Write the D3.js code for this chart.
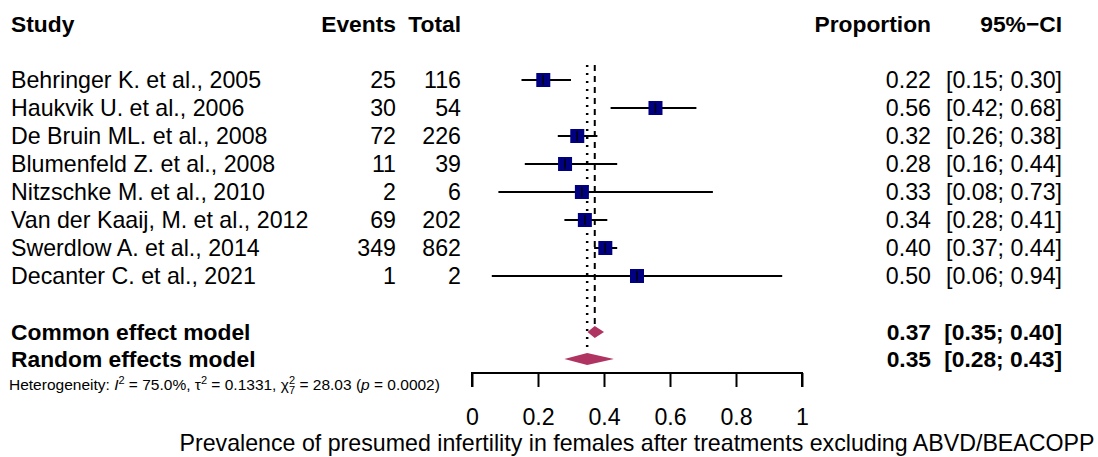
<!DOCTYPE html>
<html>
<head>
<meta charset="utf-8">
<script src="https://cdn.jsdelivr.net/npm/d3@7"></script>
<style>
  html, body { margin: 0; padding: 0; background: #fff; }
  svg { display: block; font-family: "Liberation Sans", Arial, Helvetica, sans-serif; }
</style>
</head>
<body>
<svg id="chart" width="1098" height="457"></svg>
<script>
// ---------- data ----------
const studies = [
  "Behringer K. et al., 2005",
  "Haukvik U. et al., 2006",
  "De Bruin ML. et al., 2008",
  "Blumenfeld Z. et al., 2008",
  "Nitzschke M. et al., 2010",
  "Van der Kaaij, M. et al., 2012",
  "Swerdlow A. et al., 2014",
  "Decanter C. et al., 2021"
];
const events = [25, 30, 72, 11, 2, 69, 349, 1];
const totals = [116, 54, 226, 39, 6, 202, 862, 2];
const proportions = [0.216, 0.556, 0.319, 0.282, 0.333, 0.342, 0.404, 0.500];
const lowerCI = [0.15, 0.42, 0.26, 0.16, 0.08, 0.28, 0.37, 0.06];
const upperCI = [0.30, 0.68, 0.38, 0.44, 0.73, 0.41, 0.44, 0.94];

const modelNames = ["Common effect model", "Random effects model"];
const modelEst = [0.372, 0.349];
const modelLower = [0.35, 0.28];
const modelUpper = [0.40, 0.43];

const axisTicks = [0, 0.2, 0.4, 0.6, 0.8, 1];
const xLabel = "Prevalence of presumed infertility in females after treatments excluding ABVD/BEACOPP";

// ---------- layout ----------
const svg = d3.select("#chart");
const x = d3.scaleLinear().domain([0, 1]).range([472, 802]);
const rowY = d3.scalePoint().domain(d3.range(studies.length)).range([80, 276]);
const modelY = d3.scalePoint().domain([0, 1]).range([332, 359]);
const fmt = d3.format(".2f");
const FS = 23.2;
const FSB = 22.8;
const navy = "#000080";
const diamondCol = "#b03462";

const colStudy = 11, colEvents = 396, colTotal = 461, colProp = 931, colCI = 1062;

// headers
const hdr = svg.append("g").attr("font-size", FSB).attr("font-weight", "bold");
hdr.append("text").attr("x", colStudy).attr("y", 32).text("Study");
hdr.append("text").attr("x", colEvents).attr("y", 32).attr("text-anchor", "end").text("Events");
hdr.append("text").attr("x", colTotal).attr("y", 32).attr("text-anchor", "end").text("Total");
hdr.append("text").attr("x", colProp).attr("y", 32).attr("text-anchor", "end").text("Proportion");
hdr.append("text").attr("x", colCI).attr("y", 32).attr("text-anchor", "end").text("95%\u2212CI");

// reference lines
const lineTop = 65;
svg.append("line")
  .attr("x1", x(modelEst[0])).attr("x2", x(modelEst[0]))
  .attr("y1", lineTop).attr("y2", modelY(0) - 6)
  .attr("stroke", "#000").attr("stroke-width", 2).attr("stroke-dasharray", "6,5");
svg.append("line")
  .attr("x1", x(modelEst[1])).attr("x2", x(modelEst[1]))
  .attr("y1", lineTop).attr("y2", modelY(1) - 6)
  .attr("stroke", "#000").attr("stroke-width", 2.5).attr("stroke-dasharray", "2,6");

// study rows
const rows = svg.append("g").selectAll("g").data(studies).join("g")
  .attr("transform", (d, i) => `translate(0,${rowY(i)})`);

rows.append("text").attr("x", colStudy).attr("y", 8).attr("font-size", FS).text(d => d);
rows.append("text").attr("x", colEvents).attr("y", 8).attr("font-size", FS)
  .attr("text-anchor", "end").text((d, i) => events[i]);
rows.append("text").attr("x", colTotal).attr("y", 8).attr("font-size", FS)
  .attr("text-anchor", "end").text((d, i) => totals[i]);
rows.append("text").attr("x", colProp).attr("y", 8).attr("font-size", FS)
  .attr("text-anchor", "end").text((d, i) => fmt(proportions[i]));
rows.append("text").attr("x", colCI).attr("y", 8).attr("font-size", FS)
  .attr("text-anchor", "end").text((d, i) => `[${fmt(lowerCI[i])}; ${fmt(upperCI[i])}]`);

rows.append("line")
  .attr("x1", (d, i) => x(lowerCI[i])).attr("x2", (d, i) => x(upperCI[i]))
  .attr("y1", 0).attr("y2", 0).attr("stroke", "#000").attr("stroke-width", 2);
const sq = 14;
rows.append("rect")
  .attr("x", (d, i) => x(proportions[i]) - sq / 2).attr("y", -sq / 2)
  .attr("width", sq).attr("height", sq).attr("fill", navy);
rows.append("line")
  .attr("x1", (d, i) => x(proportions[i])).attr("x2", (d, i) => x(proportions[i]))
  .attr("y1", -5).attr("y2", 5).attr("stroke", "#000").attr("stroke-width", 1.5);

// model rows
const mrows = svg.append("g").selectAll("g").data(modelNames).join("g")
  .attr("transform", (d, i) => `translate(0,${modelY(i)})`)
  .attr("font-size", FSB).attr("font-weight", "bold");
mrows.append("text").attr("x", colStudy).attr("y", 8).text(d => d);
mrows.append("text").attr("x", colProp).attr("y", 8).attr("text-anchor", "end")
  .text((d, i) => fmt(modelEst[i]));
mrows.append("text").attr("x", colCI).attr("y", 8).attr("text-anchor", "end")
  .text((d, i) => `[${fmt(modelLower[i])}; ${fmt(modelUpper[i])}]`);
mrows.append("path")
  .attr("d", (d, i) => {
    const h = 6;
    return `M${x(modelLower[i])},0 L${x(modelEst[i])},${-h} L${x(modelUpper[i])},0 L${x(modelEst[i])},${h} Z`;
  })
  .attr("fill", diamondCol);

// heterogeneity
const het = svg.append("text").attr("x", 9).attr("y", 390).attr("font-size", 15.5);
het.append("tspan").text("Heterogeneity: ");
het.append("tspan").attr("font-style", "italic").text("I");
het.append("tspan").attr("font-size", 11).attr("dy", -6).text("2");
het.append("tspan").attr("dy", 6).text(" = 75.0%, \u03c4");
het.append("tspan").attr("font-size", 11).attr("dy", -6).text("2");
het.append("tspan").attr("dy", 6).text(" = 0.1331, \u03c7");
het.append("tspan").attr("font-size", 11).attr("dy", -6).text("2");
het.append("tspan").attr("font-size", 11).attr("dx", -6).attr("dy", 10).text("7");
het.append("tspan").attr("dy", -4).text(" = 28.03 (");
het.append("tspan").attr("font-style", "italic").text("p");
het.append("tspan").text(" = 0.0002)");

// axis
const axisG = svg.append("g").attr("transform", "translate(0,373)");
const axis = d3.axisBottom(x).tickValues(axisTicks).tickSize(14).tickPadding(22)
  .tickFormat(d3.format("~g"));
axisG.call(axis);
axisG.select(".domain").attr("d", `M${x(0)},14V0H${x(1)}V14`).attr("stroke-width", 2);
axisG.selectAll(".tick line").attr("stroke-width", 2);
axisG.selectAll(".tick text").attr("font-size", FS).attr("font-family", null).attr("fill", "#000");

svg.append("text").attr("x", (x(0) + x(1)) / 2).attr("y", 451)
  .attr("text-anchor", "middle").attr("font-size", FS).text(xLabel);
</script>
</body>
</html>
